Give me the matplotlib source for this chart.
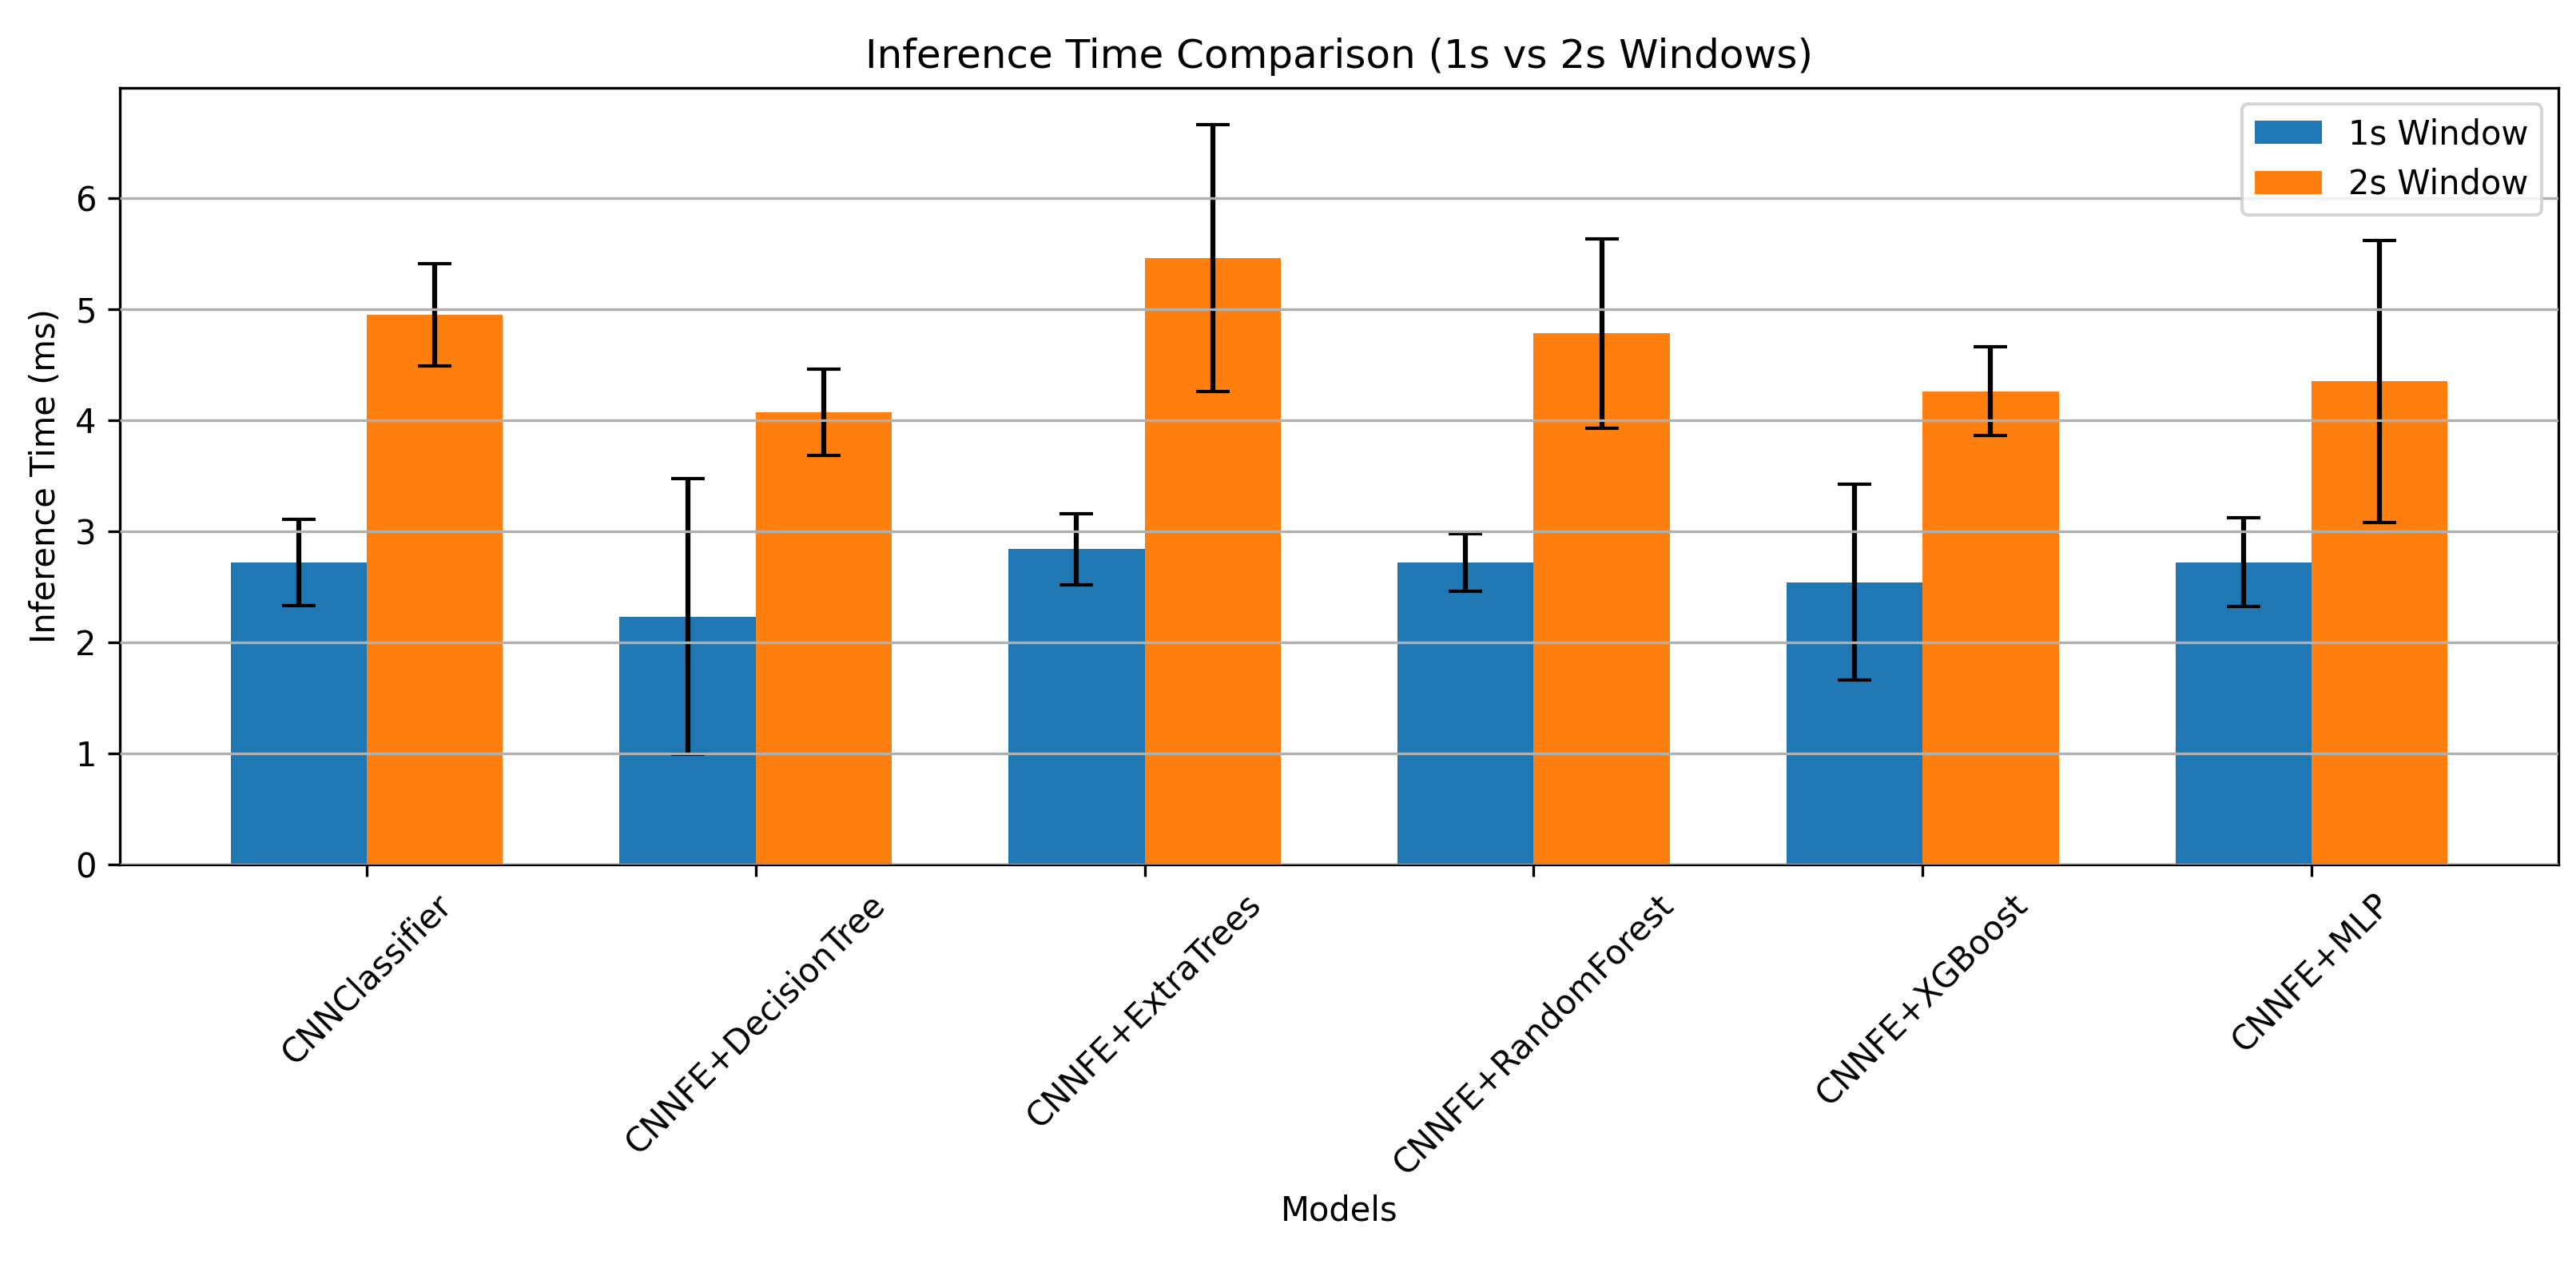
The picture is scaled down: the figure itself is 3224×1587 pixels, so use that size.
import numpy as np
import matplotlib; matplotlib.use('Agg'); import matplotlib.pyplot as plt

models = ['CNNClassifier', 'CNNFE+DecisionTree', 'CNNFE+ExtraTrees',
          'CNNFE+RandomForest', 'CNNFE+XGBoost', 'CNNFE+MLP']
mean_1s = [2.72, 2.23, 2.84, 2.72, 2.54, 2.72]
std_1s = [0.39, 1.24, 0.32, 0.26, 0.88, 0.40]
mean_2s = [4.95, 4.07, 5.46, 4.78, 4.26, 4.35]
std_2s = [0.46, 0.39, 1.20, 0.85, 0.40, 1.27]

W, H, DPI = 3224, 1587, 300
fig = plt.figure(figsize=(W/DPI, H/DPI), dpi=DPI)
ax = fig.add_axes([150/W, 1-1082/H, (3202-150)/W, (1082-109.6)/H])

x = np.arange(len(models)); w = 0.35
ax.bar(x - w/2, mean_1s, w, yerr=std_1s, capsize=5, label='1s Window', color='#1f77b4')
ax.bar(x + w/2, mean_2s, w, yerr=std_2s, capsize=5, label='2s Window', color='#ff7f0e')

ax.set_xticks(x); ax.set_xticklabels(models, rotation=45)
ax.set_xlabel('Models'); ax.set_ylabel('Inference Time (ms)')
ax.set_title('Inference Time Comparison (1s vs 2s Windows)')
ax.legend(loc='upper right')
ax.grid(axis='y')
ax.set_axisbelow(False)

fig.savefig('out.png', dpi=DPI)
